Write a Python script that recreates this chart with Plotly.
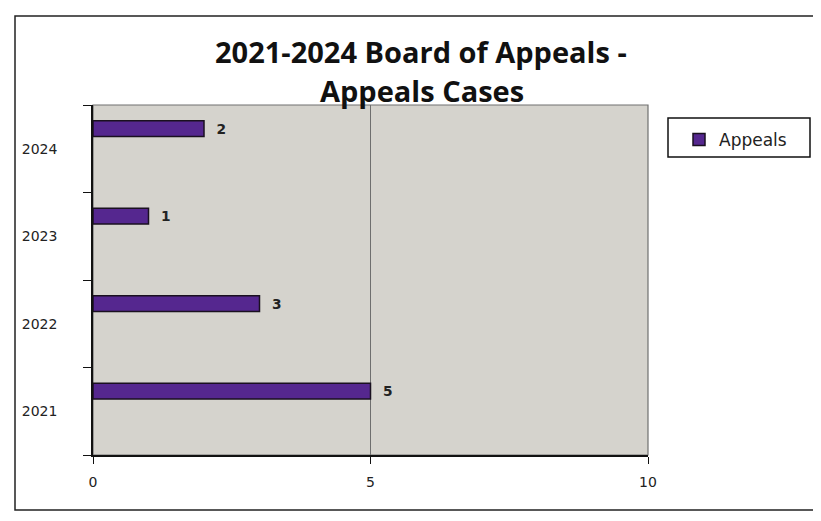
import plotly.graph_objects as go

years = ["2021", "2022", "2023", "2024"]
appeals = [5, 3, 1, 2]
series_name = "Appeals"
title_lines = ["2021-2024 Board of Appeals -", "Appeals Cases"]

# target screen positions of the plot area (page has an 8px body margin)
OFF = 8
L, R, T, B = 93, 648, 105, 455
W, H = 821, 521
pw, ph = R - L, B - T

def px(x):
    return (x - L) / pw

def py(y):
    return (B - y) / ph

fig = go.Figure()
fig.add_trace(go.Bar(
    y=years, x=appeals, orientation="h", name=series_name,
    marker=dict(color="#55278f", line=dict(color="#1a1020", width=1.5)),
    width=0.18, offset=0.14,
    text=["  " + str(v) for v in appeals], textposition="outside",
    textfont=dict(family="DejaVu Sans", size=14, color="#222222", weight="bold"),
    cliponaxis=False,
))

annotations = [
    dict(text=title_lines[0], xref="paper", yref="paper", x=px(421), y=py(52),
         xanchor="center", yanchor="middle", showarrow=False,
         font=dict(family="Open Sans", size=29, color="#111111", weight="bold")),
    dict(text=title_lines[1], xref="paper", yref="paper", x=px(422), y=py(91),
         xanchor="center", yanchor="middle", showarrow=False,
         font=dict(family="Open Sans", size=29, color="#111111", weight="bold")),
]

fig.update_layout(
    width=W, height=H,
    margin=dict(l=L - OFF, r=W - (R - OFF), t=T - OFF, b=H - (B - OFF)),
    paper_bgcolor="white", plot_bgcolor="#d5d3cd",
    showlegend=True,
    legend=dict(x=px(679), y=py(122), xanchor="left", yanchor="top",
                borderwidth=0, bgcolor="rgba(0,0,0,0)",
                font=dict(family="DejaVu Sans", size=17, color="#222222"),
                itemwidth=30),
    annotations=annotations,
    xaxis=dict(range=[0, 10], dtick=5, tick0=0, showgrid=True, gridcolor="#6e6e6e",
               gridwidth=1, zeroline=False, showline=True, linecolor="#111111",
               linewidth=1.5, ticks="outside", ticklen=7, tickcolor="#111111",
               tickfont=dict(family="DejaVu Sans", size=14, color="#222222"),
               ticklabelstandoff=6),
    yaxis=dict(type="category", categoryorder="array", categoryarray=years,
               showgrid=False, zeroline=False, showline=True, linecolor="#111111",
               linewidth=1.5, ticks="outside", ticklen=8, tickcolor="#111111",
               tickson="boundaries",
               tickfont=dict(family="DejaVu Sans", size=14, color="#222222"),
               ticklabelstandoff=31),
    shapes=[
        dict(type="rect", xref="paper", yref="paper", x0=0, x1=1, y0=0, y1=1,
             line=dict(color="#707070", width=1.2), layer="below"),
        dict(type="rect", xref="paper", yref="paper",
             x0=px(15), x1=px(840), y0=py(510), y1=py(16),
             line=dict(color="#222222", width=1.5)),
        dict(type="rect", xref="paper", yref="paper",
             x0=px(668), x1=px(810), y0=py(157), y1=py(118),
             line=dict(color="#111111", width=1.5), fillcolor="white", layer="below"),
    ],
)

fig.write_html("out.html")
